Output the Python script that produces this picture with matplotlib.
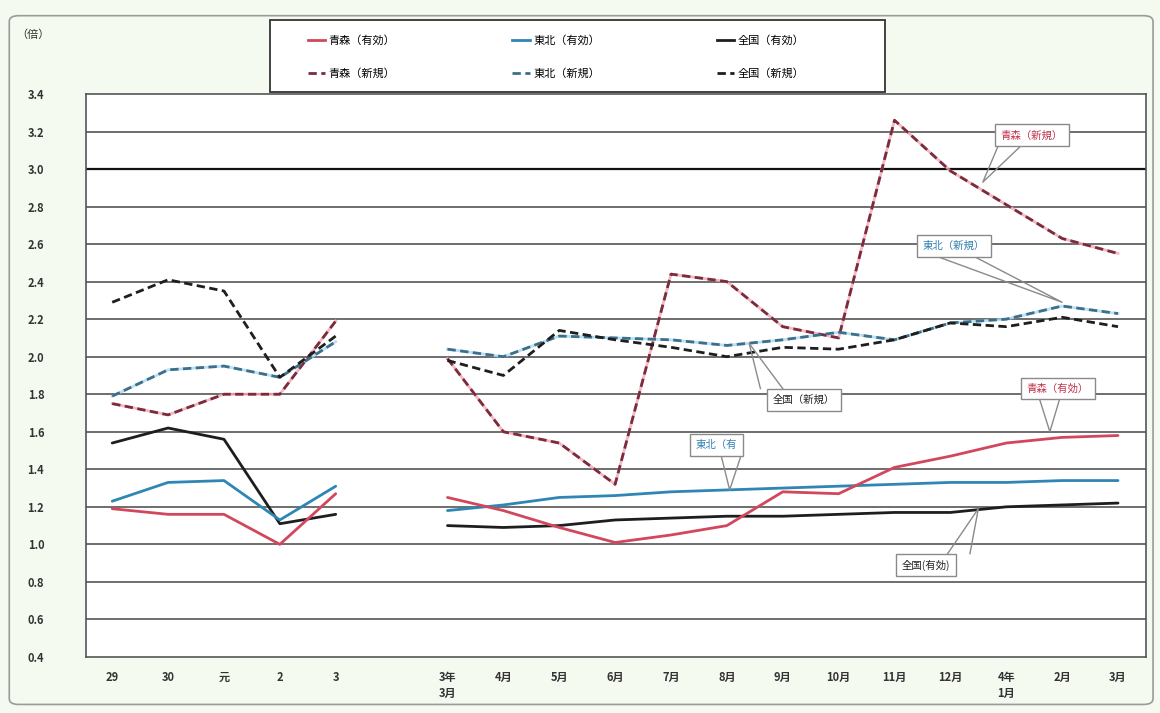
import matplotlib
matplotlib.use("Agg")
import matplotlib.pyplot as plt
from matplotlib.lines import Line2D
from matplotlib.patches import FancyBboxPatch, Rectangle

plt.rcParams['font.family'] = ['Noto Sans CJK JP', 'DejaVu Sans']

# 年度（平成29〜令和3）と月次（令和3年3月〜令和4年3月）
annual_labels = ["29", "30", "元", "2", "3"]
monthly_labels = ["3年\n3月", "4月", "5月", "6月", "7月", "8月", "9月", "10月",
                  "11月", "12月", "4年\n1月", "2月", "3月"]

# 有効求人倍率
aomori_eff_annual = [1.19, 1.16, 1.16, 1.00, 1.27]
tohoku_eff_annual = [1.23, 1.33, 1.34, 1.13, 1.31]
japan_eff_annual = [1.54, 1.62, 1.56, 1.11, 1.16]
aomori_eff_monthly = [1.25, 1.18, 1.09, 1.01, 1.05, 1.10, 1.28, 1.27, 1.41, 1.47, 1.54, 1.57, 1.58]
tohoku_eff_monthly = [1.18, 1.21, 1.25, 1.26, 1.28, 1.29, 1.30, 1.31, 1.32, 1.33, 1.33, 1.34, 1.34]
japan_eff_monthly = [1.10, 1.09, 1.10, 1.13, 1.14, 1.15, 1.15, 1.16, 1.17, 1.17, 1.20, 1.21, 1.22]

# 新規求人倍率
aomori_new_annual = [1.75, 1.69, 1.80, 1.80, 2.19]
tohoku_new_annual = [1.79, 1.93, 1.95, 1.89, 2.08]
japan_new_annual = [2.29, 2.41, 2.35, 1.89, 2.11]
aomori_new_monthly = [1.99, 1.60, 1.54, 1.32, 2.44, 2.40, 2.16, 2.10, 3.26, 2.99, 2.81, 2.63, 2.55]
tohoku_new_monthly = [2.04, 2.00, 2.11, 2.10, 2.09, 2.06, 2.09, 2.13, 2.09, 2.18, 2.20, 2.27, 2.23]
japan_new_monthly = [1.98, 1.90, 2.14, 2.09, 2.05, 2.00, 2.05, 2.04, 2.09, 2.18, 2.16, 2.21, 2.16]

y_ticks = [0.4, 0.6, 0.8, 1.0, 1.2, 1.4, 1.6, 1.8, 2.0, 2.2, 2.4, 2.6, 2.8, 3.0, 3.2, 3.4]

RED = "#d2475c"
RED_DASH = "#7a2c3c"
BLUE = "#2f86b4"
BLUE_DASH = "#3d6f8c"
BLACK = "#1e1e1e"

n_a = len(annual_labels)
x_annual = list(range(n_a))
x_monthly = [n_a + 1 + i for i in range(len(monthly_labels))]

W, H = 1160, 713
fig = plt.figure(figsize=(W / 100, H / 100), dpi=100)
fig.patch.set_facecolor("#f5faf1")

# outer frame
frame = FancyBboxPatch((0.008, 0.012), 0.986, 0.966, boxstyle="round,pad=0,rounding_size=0.008",
                       transform=fig.transFigure, facecolor="none", edgecolor="#9a9a9a", lw=1.2)
fig.patches.append(frame)

ax = fig.add_axes([0.0741, 0.0786, 0.9138, 0.7896])
ax.set_facecolor("white")
ax.set_xlim(-0.47, x_monthly[-1] + 0.5)
ax.set_ylim(0.4, 3.4)

for v in y_ticks[1:-1]:
    if abs(v - 3.0) < 1e-9:
        ax.axhline(v, color="#111111", lw=1.6, zorder=1)
    else:
        ax.axhline(v, color="#6e6e6e", lw=1.4, zorder=1)

for s in ax.spines.values():
    s.set_color("#555555")
    s.set_linewidth(1.2)

ax.set_yticks(y_ticks)
ax.set_yticklabels([f"{v:.1f}" for v in y_ticks], fontsize=8, color="#333333", fontweight="bold")
ax.tick_params(axis="y", length=0, pad=30)
ax.set_xticks(x_annual + x_monthly)
ax.set_xticklabels(annual_labels + monthly_labels, fontsize=8, color="#333333",
                   fontweight="bold", va="top", linespacing=1.3)
ax.tick_params(axis="x", length=0, pad=10)

LW = 2.0
DASH = (0, (3, 1.6))


def draw(xs, ys, kind):
    if kind == "red":
        ax.plot(xs, ys, color=RED, lw=LW, zorder=5, solid_capstyle="round")
    elif kind == "blue":
        ax.plot(xs, ys, color=BLUE, lw=LW, zorder=5, solid_capstyle="round")
    elif kind == "black":
        ax.plot(xs, ys, color=BLACK, lw=LW, zorder=5, solid_capstyle="round")
    elif kind == "red_dash":
        ax.plot(xs, ys, color="#f0a7b4", lw=LW, zorder=4, alpha=0.8)
        ax.plot(xs, ys, color=RED_DASH, lw=LW, ls=DASH, zorder=5)
    elif kind == "blue_dash":
        ax.plot(xs, ys, color="#a9d9ee", lw=LW, zorder=4, alpha=0.8)
        ax.plot(xs, ys, color=BLUE_DASH, lw=LW, ls=DASH, zorder=5)
    elif kind == "black_dash":
        ax.plot(xs, ys, color=BLACK, lw=LW, ls=DASH, zorder=5)


for xs, data in ((x_annual, 0), (x_monthly, 1)):
    sets = [
        ((aomori_new_annual, aomori_new_monthly), "red_dash"),
        ((tohoku_new_annual, tohoku_new_monthly), "blue_dash"),
        ((japan_new_annual, japan_new_monthly), "black_dash"),
        ((japan_eff_annual, japan_eff_monthly), "black"),
        ((tohoku_eff_annual, tohoku_eff_monthly), "blue"),
        ((aomori_eff_annual, aomori_eff_monthly), "red"),
    ]
    for pair, kind in sets:
        draw(xs, pair[data], kind)


def callout(text, center, tip, base, color):
    (bx0, by0), (bx1, by1) = base
    ax.plot([bx0, tip[0], bx1], [by0, tip[1], by1], color="#8a8a8a", lw=1.0, zorder=6)
    ax.text(center[0], center[1], text, fontsize=7.5, color=color, ha="center", va="center",
            zorder=8, bbox=dict(boxstyle="square,pad=0.55", facecolor="white",
                                edgecolor="#8a8a8a", lw=1.0))


callout("青森（新規）", (16.46, 3.18), (15.58, 2.93), ((15.85, 3.12), (16.25, 3.12)), "#c0304a")
callout("東北（新規）", (15.06, 2.59), (17.0, 2.29), ((14.8, 2.53), (15.45, 2.53)), "#2f7fb0")
callout("全国（新規）", (12.38, 1.77), (11.4, 2.07), ((11.6, 1.83), (12.0, 1.83)), "#222222")
callout("東北（有", (10.82, 1.53), (11.05, 1.29), ((10.9, 1.47), (11.25, 1.47)), "#2f7fb0")
callout("青森（有効）", (16.92, 1.83), (16.78, 1.60), ((16.6, 1.77), (16.95, 1.77)), "#c0304a")
callout("全国(有効)", (14.56, 0.89), (15.5, 1.19), ((14.95, 0.95), (15.35, 0.95)), "#222222")

# unit
fig.text(0.014, 0.952, "（倍）", fontsize=8, color="#333333", ha="left", va="center")

# legend box: two rows (有効 / 新規) × three areas
box = Rectangle((270 / W, 1 - 92 / H), 615 / W, 72 / H, transform=fig.transFigure,
                facecolor="white", edgecolor="#333333", lw=1.3, zorder=9)
fig.patches.append(box)

handles = [
    Line2D([], [], color=RED, lw=LW),
    Line2D([], [], color=RED_DASH, lw=LW, ls=DASH),
    Line2D([], [], color=BLUE, lw=LW),
    Line2D([], [], color=BLUE_DASH, lw=LW, ls=DASH),
    Line2D([], [], color=BLACK, lw=LW),
    Line2D([], [], color=BLACK, lw=LW, ls=DASH),
]
labels = ["青森（有効）", "青森（新規）", "東北（有効）", "東北（新規）", "全国（有効）", "全国（新規）"]
leg = fig.legend(handles, labels, ncol=3, loc="center",
                 bbox_to_anchor=(556 / W, 1 - 57 / H),
                 fontsize=8, frameon=False,
                 handlelength=1.6, handletextpad=0.3, borderaxespad=0.0,
                 labelspacing=2.0, borderpad=0.0, columnspacing=10.5)
leg.set_zorder(10)

fig.savefig("out.png", dpi=100, facecolor=fig.get_facecolor())
